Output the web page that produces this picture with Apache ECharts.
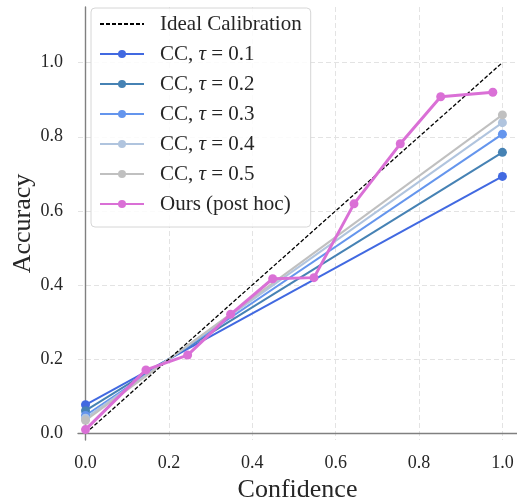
<!DOCTYPE html>
<html>
<head>
<meta charset="utf-8">
<script src="https://cdn.jsdelivr.net/npm/echarts@6/dist/echarts.min.js"></script>
<style>
html, body { margin: 0; padding: 0; background: #fff; }
#chart { width: 517px; height: 500px; }
</style>
</head>
<body>
<div id="chart"></div>
<script>
// tick labels on both axes
const tickValues = [0, 0.2, 0.4, 0.6, 0.8, 1.0]

// ideal calibration diagonal
const idealX = [0, 1]
const idealY = [0, 1]

// CC baselines, one line per tau (start at conf 0, end at conf 1)
const ccTaus = ['0.1', '0.2', '0.3', '0.4', '0.5']
const ccX = [0, 1]
const ccStart = [0.077, 0.061, 0.048, 0.041, 0.035]
const ccEnd = [0.693, 0.758, 0.807, 0.838, 0.859]

// ours (post hoc)
const oursX = [0, 0.145, 0.245, 0.348, 0.449, 0.548, 0.644, 0.755, 0.852, 0.977]
const oursY = [0.01, 0.171, 0.211, 0.321, 0.417, 0.42, 0.619, 0.781, 0.908, 0.92]

const ccColors = ['#4169E1', '#4682B4', '#6495ED', '#B0C4DE', '#C0C0C0']
const serif = '"Liberation Serif", "DejaVu Serif", serif'
const textColor = '#262626'

const pairs = (xs, ys) => xs.map((x, i) => [x, ys[i]])

const ccSeries = ccTaus.map((tau, i) => ({
  name: 'CC, τ = ' + tau,
  type: 'line',
  data: pairs(ccX, [ccStart[i], ccEnd[i]]),
  symbol: 'circle',
  symbolSize: 9,
  showSymbol: true,
  color: ccColors[i],
  lineStyle: { width: 2, color: ccColors[i] },
  itemStyle: { color: ccColors[i] },
  z: 2
}))

const series = [
  ...ccSeries,
  {
    name: 'Ideal Calibration',
    type: 'line',
    data: pairs(idealX, idealY),
    symbol: 'none',
    color: '#000',
    lineStyle: { width: 1.3, type: [4, 2], color: '#000' },
    z: 3
  },
  {
    name: 'Ours (post hoc)',
    type: 'line',
    data: pairs(oursX, oursY),
    symbol: 'circle',
    symbolSize: 9,
    color: '#DA70D6',
    lineStyle: { width: 3, color: '#DA70D6' },
    itemStyle: { color: '#DA70D6' },
    z: 4
  }
]

const chart = echarts.init(document.getElementById('chart'))

chart.setOption({
  animation: false,
  backgroundColor: '#fff',
  grid: { left: 78, right: 0, top: 7, bottom: 60, containLabel: false, outerBoundsMode: 'none' },
  xAxis: {
    type: 'value',
    min: -0.018,
    max: 1.035,
    name: 'Confidence',
    nameLocation: 'middle',
    nameGap: 37,
    nameMoveOverlap: false,
    nameTextStyle: { fontFamily: serif, fontSize: 26, color: textColor },
    axisLine: { onZero: true, lineStyle: { color: '#808080', width: 1.4 } },
    axisTick: { show: false, customValues: tickValues },
    axisLabel: {
      customValues: tickValues,
      formatter: v => v.toFixed(1),
      fontFamily: serif, fontSize: 18, color: textColor, margin: 14
    },
    splitLine: { show: true, lineStyle: { color: '#e3e3e3', width: 1, type: [5, 3] } }
  },
  yAxis: {
    type: 'value',
    min: -0.018,
    max: 1.15,
    name: 'Accuracy',
    nameLocation: 'middle',
    nameGap: 42,
    nameMoveOverlap: false,
    nameTextStyle: { fontFamily: serif, fontSize: 26, color: textColor },
    axisLine: { onZero: true, lineStyle: { color: '#808080', width: 1.4 } },
    axisTick: { show: false, customValues: tickValues },
    axisLabel: {
      customValues: tickValues,
      formatter: v => v.toFixed(1),
      fontFamily: serif, fontSize: 18, color: textColor, margin: 15
    },
    splitLine: { show: true, lineStyle: { color: '#e3e3e3', width: 1, type: [5, 3] } }
  },
  legend: {
    orient: 'vertical',
    left: 91,
    top: 8,
    data: [
      { name: 'Ideal Calibration', itemStyle: { opacity: 0 } },
      ...ccTaus.map(t => 'CC, τ = ' + t),
      'Ours (post hoc)'
    ],
    itemWidth: 44,
    itemHeight: 10,
    itemGap: 8,
    padding: [5, 9, 12, 8],
    backgroundColor: 'rgba(255,255,255,0.85)',
    borderColor: '#d6d6d6',
    borderWidth: 1,
    borderRadius: 4,
    formatter: name => {
      if (name.startsWith('CC')) {
        return '{s|}{a|CC, }{i|τ}{a| = ' + name.split('= ')[1] + '}'
      }
      return '{s|}{a|' + name + '}'
    },
    textStyle: {
      fontFamily: serif,
      fontSize: 21,
      color: textColor,
      lineHeight: 22,
      rich: {
        s: { width: 11 },
        a: { fontFamily: serif, fontSize: 21, color: textColor, lineHeight: 22 },
        i: { fontFamily: serif, fontSize: 21, fontStyle: 'italic', color: textColor, lineHeight: 22 }
      }
    }
  },
  series
})
</script>
</body>
</html>
